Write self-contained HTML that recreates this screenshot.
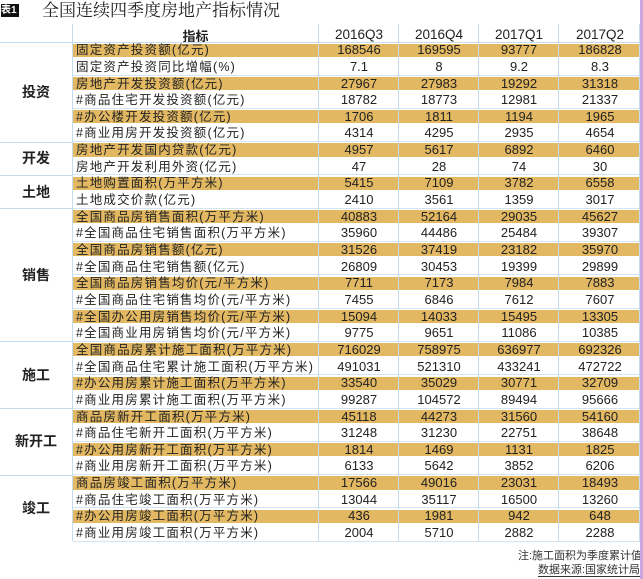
<!DOCTYPE html>
<html><head><meta charset="utf-8"><style>
body{margin:0;width:643px;height:579px;background:#fff;position:relative;overflow:hidden;font-family:"Liberation Sans","Noto Sans CJK SC",sans-serif;color:#222}
.a{position:absolute}
.g{background:#E3B862}
.t{font-size:12.5px;letter-spacing:1.2px;white-space:nowrap;line-height:16px}
.n{font-size:13px;text-align:center;line-height:16px}
.grp{font-size:14px;font-weight:bold;text-align:center;width:72px;left:0}
</style></head><body>
<div class="a" style="left:1px;top:4px;width:18px;height:13px;background:#111;color:#fff;font-size:10px;line-height:13px;font-weight:bold">表1</div>
<div class="a" style="left:42px;top:1px;font-size:17px;line-height:20px;font-family:'Liberation Serif','Noto Serif CJK SC',serif">全国连续四季度房地产指标情况</div>
<div id="tb"></div>
<div class="a" style="left:518px;top:547px;font-size:11px;color:#333">注:施工面积为季度累计值</div>
<div class="a" style="left:538px;top:564px;font-size:11px;color:#333;border-bottom:1px solid #333;line-height:12px">数据来源:国家统计局</div>
<div class="a" style="left:640px;top:0;width:3px;height:579px;background:#c9a6e0"></div>
<script>
const rows=[
["固定资产投资额(亿元)","168546","169595","93777","186828"],
["固定资产投资同比增幅(%)","7.1","8","9.2","8.3"],
["房地产开发投资额(亿元)","27967","27983","19292","31318"],
["#商品住宅开发投资额(亿元)","18782","18773","12981","21337"],
["#办公楼开发投资额(亿元)","1706","1811","1194","1965"],
["#商业用房开发投资额(亿元)","4314","4295","2935","4654"],
["房地产开发国内贷款(亿元)","4957","5617","6892","6460"],
["房地产开发利用外资(亿元)","47","28","74","30"],
["土地购置面积(万平方米)","5415","7109","3782","6558"],
["土地成交价款(亿元)","2410","3561","1359","3017"],
["全国商品房销售面积(万平方米)","40883","52164","29035","45627"],
["#全国商品住宅销售面积(万平方米)","35960","44486","25484","39307"],
["全国商品房销售额(亿元)","31526","37419","23182","35970"],
["#全国商品住宅销售额(亿元)","26809","30453","19399","29899"],
["全国商品房销售均价(元/平方米)","7711","7173","7984","7883"],
["#全国商品住宅销售均价(元/平方米)","7455","6846","7612","7607"],
["#全国办公用房销售均价(元/平方米)","15094","14033","15495","13305"],
["#全国商业用房销售均价(元/平方米)","9775","9651","11086","10385"],
["全国商品房累计施工面积(万平方米)","716029","758975","636977","692326"],
["#全国商品住宅累计施工面积(万平方米)","491031","521310","433241","472722"],
["#办公用房累计施工面积(万平方米)","33540","35029","30771","32709"],
["#商业用房累计施工面积(万平方米)","99287","104572","89494","95666"],
["商品房新开工面积(万平方米)","45118","44273","31560","54160"],
["#商品住宅新开工面积(万平方米)","31248","31230","22751","38648"],
["#办公用房新开工面积(万平方米)","1814","1469","1131","1825"],
["#商业用房新开工面积(万平方米)","6133","5642","3852","6206"],
["商品房竣工面积(万平方米)","17566","49016","23031","18493"],
["#商品住宅竣工面积(万平方米)","13044","35117","16500","13260"],
["#办公用房竣工面积(万平方米)","436","1981","942","648"],
["#商业用房竣工面积(万平方米)","2004","5710","2882","2288"]];
const groups=[["投资",0,6],["开发",6,2],["土地",8,2],["销售",10,8],["施工",18,4],["新开工",22,4],["竣工",26,4]];
const T=41.7,H=16.65,cx=[359,439,519,600];
let h='';
h+=`<div class="a" style="left:73px;top:26px;width:245px;font-size:13px;font-weight:bold;text-align:center">指标</div>`;
["2016Q3","2016Q4","2017Q1","2017Q2"].forEach((s,i)=>h+=`<div class="a n" style="left:${cx[i]-40}px;top:27px;width:80px;font-size:13.5px">${s}</div>`);
h+=`<div class="a" style="left:0;top:${T}px;width:640px;height:1px;background:#c5dbee"></div>`;
rows.forEach((r,i)=>{const y=T+i*H;
 if(i%2==0)h+=`<div class="a g" style="left:73px;top:${y+1.8}px;width:567px;height:13.2px"></div>`;
 else h+=`<div class="a" style="left:73px;top:${y+H-0.5}px;width:567px;height:1px;background:#d5e4f2"></div>`;
 h+=`<div class="a t" style="left:76px;top:${y+0.5}px">${r[0]}</div>`;
 for(let k=0;k<4;k++)h+=`<div class="a n" style="left:${cx[k]-40}px;top:${y+0.5}px;width:80px">${r[k+1]}</div>`;
});
groups.forEach(g=>{const y=T+g[1]*H,hh=g[2]*H;
 h+=`<div class="a grp" style="top:${y+hh/2-9}px;line-height:18px">${g[0]}</div>`;
 h+=`<div class="a" style="left:0;top:${y}px;width:73px;height:1px;background:#c5dbee"></div>`;});
[72,318,398,478,558,639].forEach(x=>h+=`<div class="a" style="left:${x}px;top:24px;width:1px;height:${T+30*H-24}px;background:#c5dbee"></div>`);
document.getElementById('tb').innerHTML=h;
</script>
</body></html>
